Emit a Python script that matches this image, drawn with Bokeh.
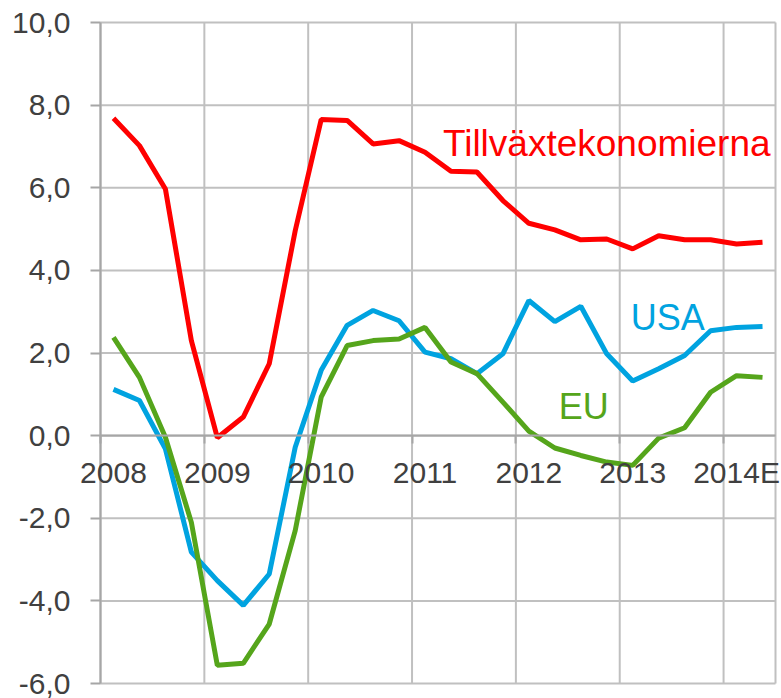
from bokeh.plotting import figure
from bokeh.models import FixedTicker, LinearAxis, Range1d, Label, ColumnDataSource
from bokeh.embed import file_html
from bokeh.resources import INLINE

# Quarterly GDP growth (%), 2008 Q1 - 2014 Q2 (E)
years = ["2008", "2009", "2010", "2011", "2012", "2013", "2014E"]
quarters = [f"{y}K{q}" for y in years for q in range(1, 5)][:26]

tillvaxt = [7.68, 7.02, 5.97, 2.30, -0.05, 0.45, 1.74, 4.96, 7.65, 7.63, 7.06, 7.14, 6.86,
            6.40, 6.38, 5.69, 5.14, 4.98, 4.74, 4.76, 4.52, 4.84, 4.74, 4.74, 4.64, 4.68]
usa = [1.12, 0.85, -0.32, -2.82, -3.51, -4.11, -3.35, -0.28, 1.58, 2.67, 3.03, 2.78, 2.02,
       1.86, 1.50, 1.98, 3.27, 2.76, 3.13, 1.98, 1.32, 1.62, 1.94, 2.54, 2.62, 2.64]
eu = [2.38, 1.41, -0.04, -2.10, -5.56, -5.51, -4.56, -2.30, 0.93, 2.18, 2.30, 2.34, 2.62,
      1.78, 1.50, 0.81, 0.11, -0.30, -0.48, -0.64, -0.72, -0.06, 0.19, 1.05, 1.45, 1.41]

y_ticks = [-6, -4, -2, 0, 2, 4, 6, 8, 10]

FONT = "Liberation Sans"
GRID = "#c0c0c0"
AXIS = "#a6a6a6"
TXT = "#404040"
RED = "#ff0000"
BLUE = "#00a3e0"
GREEN = "#55a51b"

n = len(quarters)
xs = [i + 0.5 for i in range(n)]
src = ColumnDataSource(dict(x=xs, q=quarters, t=tillvaxt, u=usa, e=eu))

# plot-area geometry (pixels); the frame covers the whole figure so that
# axis labels drawn at fixed locations are never clipped
W, H = 781, 698
LEFT, TOP, RIGHT, BOTTOM = 100, 22, 6, 15
px_q = (W - LEFT - RIGHT) / n
px_u = (H - TOP - BOTTOM) / (y_ticks[-1] - y_ticks[0])
x_range = Range1d(-LEFT / px_q, n + RIGHT / px_q)
y_range = Range1d(y_ticks[0] - BOTTOM / px_u, y_ticks[-1] + TOP / px_u)

p = figure(frame_width=W, frame_height=H, output_backend="svg", toolbar_location=None,
           x_range=x_range, y_range=y_range,
           min_border_left=0, min_border_top=0, min_border_right=0, min_border_bottom=0,
           x_axis_location=None)
p.background_fill_color = "white"
p.border_fill_color = "white"
p.outline_line_color = None
p.xgrid.visible = False
p.ygrid.visible = False

# grid limited to the plot area
year_bounds = [4 * i for i in range(len(years))]
p.segment(x0=[0] * len(y_ticks), x1=[n] * len(y_ticks), y0=y_ticks, y1=y_ticks,
          line_color=GRID, line_width=2)
vx = year_bounds + [n]
p.segment(x0=vx, x1=vx, y0=[y_ticks[0]] * len(vx), y1=[y_ticks[-1]] * len(vx),
          line_color=GRID, line_width=2)

# y axis at x = 0
p.yaxis.fixed_location = 0
p.yaxis.bounds = (y_ticks[0], y_ticks[-1])
p.yaxis.ticker = FixedTicker(ticks=y_ticks)
p.yaxis.major_label_overrides = {t: f"{t:.1f}".replace(".", ",") for t in y_ticks}
p.yaxis.major_label_text_font = FONT
p.yaxis.major_label_text_font_size = "30px"
p.yaxis.major_label_text_color = TXT
p.yaxis.axis_line_color = AXIS
p.yaxis.axis_line_width = 2
p.yaxis.major_tick_line_color = AXIS
p.yaxis.major_tick_line_width = 2
p.yaxis.major_tick_out = 10
p.yaxis.major_tick_in = 0
p.yaxis.minor_tick_line_color = None
p.yaxis.major_label_standoff = 20

# x axis crossing at zero: tick marks at year boundaries
tick_axis = LinearAxis(ticker=FixedTicker(ticks=year_bounds), fixed_location=0, bounds=(0, n))
tick_axis.axis_line_color = AXIS
tick_axis.axis_line_width = 2
tick_axis.major_tick_line_color = AXIS
tick_axis.major_tick_line_width = 2
tick_axis.major_tick_out = 8
tick_axis.major_tick_in = 0
tick_axis.minor_tick_line_color = None
tick_axis.major_label_text_font_size = "0px"
tick_axis.major_label_text_color = None
p.add_layout(tick_axis, "below")

p.line("x", "t", source=src, line_color=RED, line_width=5)
p.line("x", "u", source=src, line_color=BLUE, line_width=5)
p.line("x", "e", source=src, line_color=GREEN, line_width=5)

# year labels under the zero line, at the first quarter of each year
for i, yr in enumerate(years):
    p.add_layout(Label(x=xs[4 * i], y=0, y_offset=-37, text=yr, text_color=TXT,
                       text_font=FONT, text_font_size="30px", text_align="center",
                       text_baseline="alphabetic"))

for txt, x, y, c, fs in [("Tillväxtekonomierna", 13.19, 7.07, RED, "37px"),
                         ("USA", 20.42, 2.87, BLUE, "36px"),
                         ("EU", 17.65, 0.70, GREEN, "36px")]:
    p.add_layout(Label(x=x, y=y, text=txt, text_color=c, text_font=FONT,
                       text_font_size=fs, text_baseline="alphabetic"))

open("out.html", "w").write(file_html(p, INLINE))
